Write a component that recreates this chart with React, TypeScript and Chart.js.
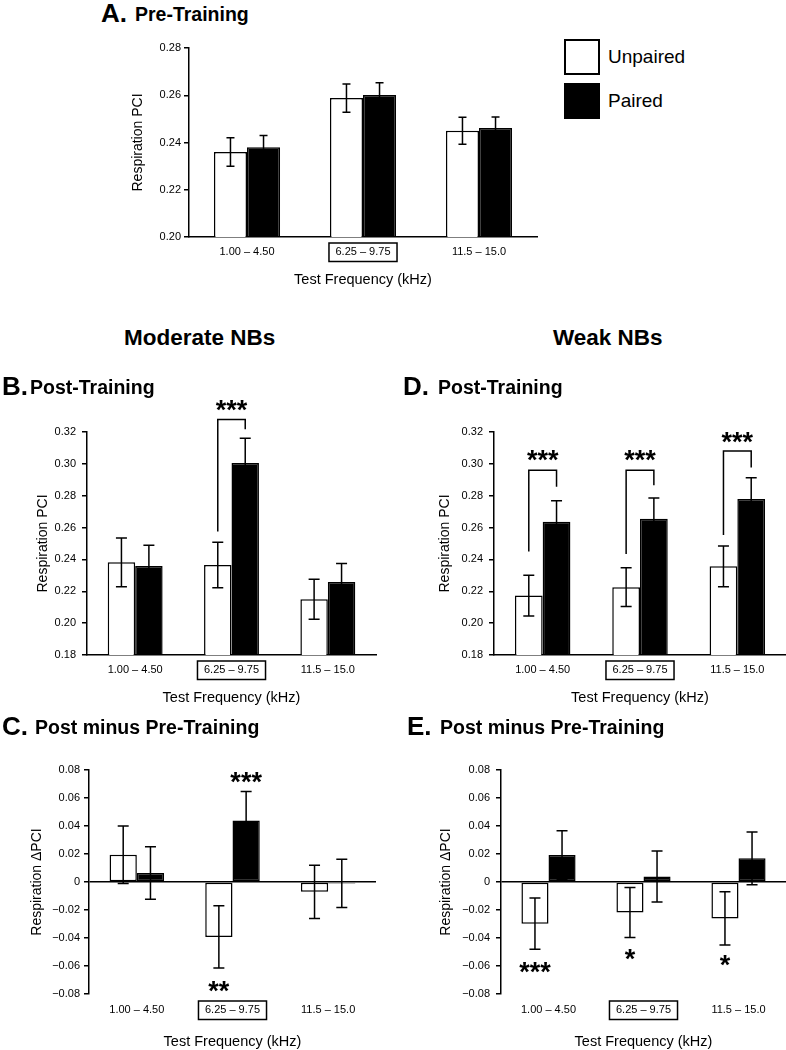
import React, { useEffect, useRef } from 'react';
import { Chart, registerables } from 'chart.js';

Chart.register(...registerables);

const FONT = '"Liberation Sans", Arial, Helvetica, sans-serif';

// ---------- data ----------
const frequencyBands = ['1.00 – 4.50', '6.25 – 9.75', '11.5 – 15.0'];
const trainedBandIndex = 1;
const seriesNames = ['Unpaired', 'Paired'];

const preRange = [0.2, 0.28];
const postRange = [0.18, 0.32];
const diffRange = [-0.08, 0.08];
const tickStep = 0.02;

// A. Pre-Training
const preUnpaired = [0.236, 0.2588, 0.245];
const preUnpairedSem = [0.006, 0.006, 0.0057];
const prePaired = [0.238, 0.2601, 0.2461];
const prePairedSem = [0.005, 0.0052, 0.0047];

// B. Moderate NBs, Post-Training
const modPostUnpaired = [0.2382, 0.2365, 0.215];
const modPostUnpairedSem = [0.0153, 0.0143, 0.0125];
const modPostPaired = [0.2359, 0.3005, 0.2258];
const modPostPairedSem = [0.013, 0.0155, 0.0117];

// D. Weak NBs, Post-Training
const weakPostUnpaired = [0.2173, 0.2226, 0.2357];
const weakPostUnpairedSem = [0.0128, 0.0122, 0.0128];
const weakPostPaired = [0.2636, 0.2655, 0.2779];
const weakPostPairedSem = [0.0132, 0.013, 0.0133];

// C. Moderate NBs, Post minus Pre
const modDiffUnpaired = [0.0195, -0.0392, -0.007];
const modDiffUnpairedSem = [0.0205, 0.0223, 0.019];
const modDiffPaired = [0.0064, 0.044, -0.001];
const modDiffPairedSem = [0.0187, 0.0207, 0.0172];

// E. Weak NBs, Post minus Pre
const weakDiffUnpaired = [-0.0298, -0.0218, -0.026];
const weakDiffUnpairedSem = [0.0183, 0.0179, 0.019];
const weakDiffPaired = [0.0193, 0.004, 0.0169];
const weakDiffPairedSem = [0.0173, 0.0182, 0.0188];

// significance (values in data units)
const modPostBrackets = [
  { band: 1, leftEnd: 0.2576, top: 0.3279, rightEnd: 0.3217, label: '***', labelAt: 0.3377 },
];
const weakPostBrackets = [
  { band: 0, leftEnd: 0.2449, top: 0.296, rightEnd: 0.2856, label: '***', labelAt: 0.306 },
  { band: 1, leftEnd: 0.2434, top: 0.296, rightEnd: 0.2866, label: '***', labelAt: 0.306 },
  { band: 2, leftEnd: 0.2553, top: 0.3081, rightEnd: 0.2977, label: '***', labelAt: 0.3175 },
];
const modDiffStars = [
  { band: 1, series: 1, label: '***', at: 0.0759 },
  { band: 1, series: 0, label: '**', at: -0.0734 },
];
const weakDiffStars = [
  { band: 0, series: 0, label: '***', at: -0.0596 },
  { band: 1, series: 0, label: '*', at: -0.0507 },
  { band: 2, series: 0, label: '*', at: -0.055 },
];

// ---------- helpers ----------
const fmtTick = (v: number) =>
  Math.abs(v) < 1e-9 ? '0' : (v < 0 ? '\u2212' : '') + Math.abs(v).toFixed(2);

type Bracket = { band: number; leftEnd: number; top: number; rightEnd: number; label: string; labelAt: number };
type Star = { band: number; series: number; label: string; at: number };

type PanelProps = {
  box: { left: number; top: number; width: number };
  area: { l: number; t: number; r: number; b: number };
  xAxisH: number;
  yRange: number[];
  yTitle: string;
  zeroLine: boolean;
  unpaired: number[];
  unpairedSem: number[];
  paired: number[];
  pairedSem: number[];
  brackets?: Bracket[];
  stars?: Star[];
  cap: number;
  yTickPad: number;
  yTitleX: number;
  xTickPad: number;
  xTitleY: number;
};

function Panel(p: PanelProps) {
  const ref = useRef<HTMLCanvasElement>(null);
  const height = p.area.b + p.xAxisH - p.box.top;

  useEffect(() => {
    if (!ref.current) return;
    const sems = [p.unpairedSem, p.pairedSem];
    const starSize = 27;

    const semPlugin = {
      id: 'semBars',
      afterDatasetsDraw(chart: any) {
        const { ctx } = chart;
        const y = chart.scales.y;
        ctx.save();
        ctx.strokeStyle = '#000';
        ctx.lineWidth = 1.5;
        chart.data.datasets.forEach((ds: any, d: number) => {
          const meta = chart.getDatasetMeta(d);
          meta.data.forEach((bar: any, i: number) => {
            const v = ds.data[i];
            const e = sems[d][i];
            const x = bar.x;
            const y1 = y.getPixelForValue(v + e);
            const y2 = y.getPixelForValue(v - e);
            ctx.beginPath();
            ctx.moveTo(x, y1);
            ctx.lineTo(x, y2);
            ctx.moveTo(x - p.cap, y1);
            ctx.lineTo(x + p.cap, y1);
            ctx.moveTo(x - p.cap, y2);
            ctx.lineTo(x + p.cap, y2);
            ctx.stroke();
          });
        });
        ctx.restore();
      },
    };

    const notePlugin = {
      id: 'notes',
      afterDraw(chart: any) {
        const { ctx } = chart;
        const xs = chart.scales.x;
        const y = chart.scales.y;
        const m0 = chart.getDatasetMeta(0);
        const m1 = chart.getDatasetMeta(1);
        ctx.save();
        ctx.strokeStyle = '#000';
        ctx.fillStyle = '#000';
        ctx.lineWidth = 1.5;
        // boxed trained band label
        ctx.font = `11px ${FONT}`;
        const tx = xs.getPixelForTick(trainedBandIndex);
        const w = ctx.measureText(frequencyBands[trainedBandIndex]).width;
        const cy = xs.top + p.xTickPad + 6.6;
        ctx.strokeRect(tx - w / 2 - 6.5, cy - 9, w + 13, 18.5);
        // brackets
        ctx.font = `bold ${starSize}px ${FONT}`;
        ctx.textAlign = 'center';
        ctx.textBaseline = 'alphabetic';
        (p.brackets || []).forEach((b) => {
          const xl = m0.data[b.band].x;
          const xr = m1.data[b.band].x;
          const yt = y.getPixelForValue(b.top);
          ctx.beginPath();
          ctx.moveTo(xl, y.getPixelForValue(b.leftEnd));
          ctx.lineTo(xl, yt);
          ctx.lineTo(xr, yt);
          ctx.lineTo(xr, y.getPixelForValue(b.rightEnd));
          ctx.stroke();
          ctx.fillText(b.label, xs.getPixelForTick(b.band), y.getPixelForValue(b.labelAt) + starSize * 0.56);
        });
        (p.stars || []).forEach((s) => {
          const meta = chart.getDatasetMeta(s.series);
          ctx.fillText(s.label, meta.data[s.band].x, y.getPixelForValue(s.at) + starSize * 0.56);
        });
        ctx.restore();
      },
    };

    const chart = new Chart(ref.current, {
      type: 'bar',
      data: {
        labels: frequencyBands,
        datasets: [
          {
            label: seriesNames[0],
            data: p.unpaired,
            backgroundColor: '#fff',
            borderColor: '#000',
            borderWidth: 1.5,
            borderSkipped: false,
            barPercentage: 1,
            categoryPercentage: 0.57,
          },
          {
            label: seriesNames[1],
            data: p.paired,
            backgroundColor: '#000',
            borderColor: '#000',
            borderWidth: 1.5,
            borderSkipped: false,
            barPercentage: 1,
            categoryPercentage: 0.57,
          },
        ],
      },
      options: {
        responsive: false,
        animation: false,
        events: [],
        layout: {
          padding: {
            left: 0,
            top: p.area.t - p.box.top,
            right: p.box.left + p.box.width - p.area.r,
            bottom: 0,
          },
        },
        plugins: { legend: { display: false }, tooltip: { enabled: false } },
        scales: {
          x: {
            type: 'category',
            offset: true,
            grid: { display: false, drawTicks: false },
            border: { display: !p.zeroLine, color: '#000', width: 1.5 },
            ticks: {
              color: '#000',
              font: { family: FONT, size: 11 },
              padding: p.xTickPad,
              maxRotation: 0,
              autoSkip: false,
            },
            title: {
              display: true,
              text: 'Test Frequency (kHz)',
              color: '#000',
              font: { family: FONT, size: 14.5, lineHeight: 1 },
              padding: { top: 0, bottom: p.area.b + p.xAxisH - p.xTitleY - 7.25 },
            },
            afterFit: (s: any) => {
              s.height = p.xAxisH;
            },
          },
          y: {
            type: 'linear',
            min: p.yRange[0],
            max: p.yRange[1],
            ticks: {
              stepSize: tickStep,
              color: '#000',
              font: { family: FONT, size: 11 },
              padding: p.yTickPad,
              callback: (v: any) => fmtTick(Number(v)),
            },
            grid: {
              display: true,
              drawOnChartArea: p.zeroLine,
              drawTicks: true,
              tickLength: 5,
              tickColor: '#000',
              tickWidth: 1.5,
              lineWidth: 1.5,
              color: (c: any) =>
                p.zeroLine && c.tick && Math.abs(c.tick.value) < 1e-9 ? '#000' : 'rgba(0,0,0,0)',
            },
            border: { display: true, color: '#000', width: 1.5 },
            title: {
              display: true,
              text: p.yTitle,
              color: '#000',
              font: { family: FONT, size: 14, lineHeight: 1 },
              padding: { top: p.yTitleX - p.box.left - 7, bottom: 0 },
            },
            afterFit: (s: any) => {
              s.width = p.area.l - p.box.left;
            },
          },
        },
      } as any,
      plugins: [semPlugin, notePlugin],
    });
    return () => chart.destroy();
  }, []);

  return (
    <canvas
      ref={ref}
      width={p.box.width}
      height={height}
      style={{ position: 'absolute', left: p.box.left, top: p.box.top, width: p.box.width, height }}
    />
  );
}

function Txt({ x, y, size, bold, children }: { x: number; y: number; size: number; bold?: boolean; children: any }) {
  return (
    <div
      style={{
        position: 'absolute',
        left: x,
        top: y - 0.8465 * size,
        fontSize: size,
        lineHeight: `${size}px`,
        fontWeight: bold ? 'bold' : 'normal',
        whiteSpace: 'nowrap',
        color: '#000',
        fontFamily: FONT,
      }}
    >
      {children}
    </div>
  );
}

export default function App() {
  useEffect(() => {
    document.body.style.margin = '0';
  }, []);
  return (
    <div
      style={{
        position: 'fixed',
        left: 0,
        top: 0,
        width: 786,
        height: 1050,
        overflow: 'hidden',
        background: '#fff',
        fontFamily: FONT,
      }}
    >
      <Panel
        box={{ left: 90, top: 30, width: 460 }}
        area={{ l: 189, t: 48, r: 537, b: 237 }}
        xAxisH={60}
        yRange={preRange}
        yTitle="Respiration PCI"
        zeroLine={false}
        unpaired={preUnpaired}
        unpairedSem={preUnpairedSem}
        paired={prePaired}
        pairedSem={prePairedSem}
        cap={4}
        yTickPad={3}
        yTitleX={138}
        xTickPad={8.4}
        xTitleY={280}
      />
      <Panel
        box={{ left: 0, top: 380, width: 393 }}
        area={{ l: 87, t: 432, r: 376, b: 655 }}
        xAxisH={60}
        yRange={postRange}
        yTitle="Respiration PCI"
        zeroLine={false}
        unpaired={modPostUnpaired}
        unpairedSem={modPostUnpairedSem}
        paired={modPostPaired}
        pairedSem={modPostPairedSem}
        brackets={modPostBrackets}
        cap={5.5}
        yTickPad={6}
        yTitleX={43}
        xTickPad={8.4}
        xTitleY={698}
      />
      <Panel
        box={{ left: 393, top: 380, width: 393 }}
        area={{ l: 494, t: 432, r: 786, b: 655 }}
        xAxisH={60}
        yRange={postRange}
        yTitle="Respiration PCI"
        zeroLine={false}
        unpaired={weakPostUnpaired}
        unpairedSem={weakPostUnpairedSem}
        paired={weakPostPaired}
        pairedSem={weakPostPairedSem}
        brackets={weakPostBrackets}
        cap={5.5}
        yTickPad={6}
        yTitleX={445}
        xTickPad={8.4}
        xTitleY={698}
      />
      <Panel
        box={{ left: 0, top: 750, width: 393 }}
        area={{ l: 89, t: 770, r: 376, b: 994 }}
        xAxisH={56}
        yRange={diffRange}
        yTitle="Respiration ΔPCI"
        zeroLine={true}
        unpaired={modDiffUnpaired}
        unpairedSem={modDiffUnpairedSem}
        paired={modDiffPaired}
        pairedSem={modDiffPairedSem}
        stars={modDiffStars}
        cap={5.5}
        yTickPad={4}
        yTitleX={37}
        xTickPad={9.4}
        xTitleY={1042}
      />
      <Panel
        box={{ left: 393, top: 750, width: 393 }}
        area={{ l: 501, t: 770, r: 786, b: 994 }}
        xAxisH={56}
        yRange={diffRange}
        yTitle="Respiration ΔPCI"
        zeroLine={true}
        unpaired={weakDiffUnpaired}
        unpairedSem={weakDiffUnpairedSem}
        paired={weakDiffPaired}
        pairedSem={weakDiffPairedSem}
        stars={weakDiffStars}
        cap={5.5}
        yTickPad={6}
        yTitleX={446}
        xTickPad={9.4}
        xTitleY={1042}
      />

      {/* titles */}
      <Txt x={101} y={22} size={26} bold>A.</Txt>
      <Txt x={135} y={22} size={19.5} bold>Pre-Training</Txt>
      <Txt x={124} y={346} size={22.5} bold>Moderate NBs</Txt>
      <Txt x={553} y={346} size={22.5} bold>Weak NBs</Txt>
      <Txt x={2} y={395} size={26} bold>B.</Txt>
      <Txt x={30} y={395} size={19.5} bold>Post-Training</Txt>
      <Txt x={403} y={395} size={26} bold>D.</Txt>
      <Txt x={438} y={395} size={19.5} bold>Post-Training</Txt>
      <Txt x={2} y={735} size={26} bold>C.</Txt>
      <Txt x={35} y={735} size={19.5} bold>Post minus Pre-Training</Txt>
      <Txt x={407} y={735} size={26} bold>E.</Txt>
      <Txt x={440} y={735} size={19.5} bold>Post minus Pre-Training</Txt>

      {/* legend */}
      <div style={{ position: 'absolute', left: 564, top: 39, width: 36, height: 36, boxSizing: 'border-box', border: '2px solid #000', background: '#fff' }} />
      <div style={{ position: 'absolute', left: 564, top: 83, width: 36, height: 36, boxSizing: 'border-box', border: '2px solid #000', background: '#000' }} />
      <Txt x={608} y={63} size={19}>{seriesNames[0]}</Txt>
      <Txt x={608} y={107} size={19}>{seriesNames[1]}</Txt>
    </div>
  );
}
